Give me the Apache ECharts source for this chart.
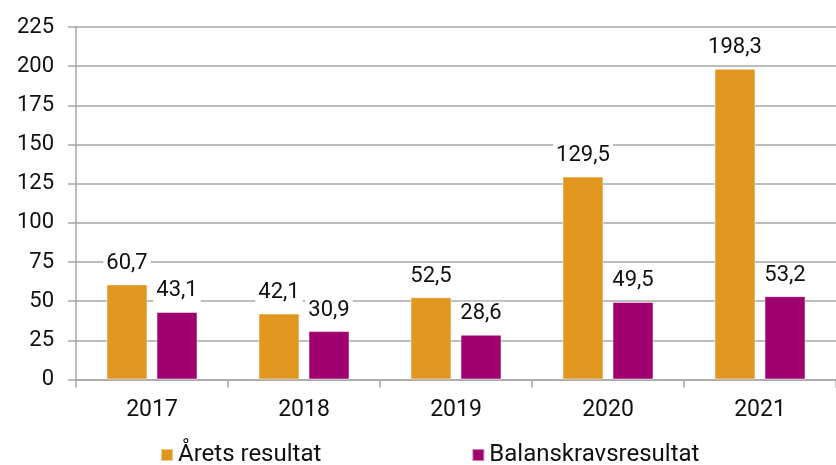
<!DOCTYPE html>
<html>
<head>
<meta charset="utf-8">
<script src="https://cdn.jsdelivr.net/npm/echarts@6/dist/echarts.min.js"></script>
<style>
  html, body { margin: 0; padding: 0; background: #fff; }
  #chart { width: 836px; height: 465px; }
</style>
</head>
<body>
<div id="chart"></div>
<script>
// data
var years = ['2017', '2018', '2019', '2020', '2021'];
var aretsResultat = [60.7, 42.1, 52.5, 129.5, 198.3];
var balanskrav = [43.1, 30.9, 28.6, 49.5, 53.2];
var seriesNames = ['Årets resultat', 'Balanskravsresultat'];

var myChart = echarts.init(document.getElementById('chart'));

// decimal comma
function fmt(p) {
  return String(p.value).replace('.', ',');
}

var labelStyle = {
  show: true,
  position: 'top',
  distance: 9,
  color: '#111',
  fontSize: 22,
  fontFamily: 'Roboto',
  backgroundColor: '#fff',
  padding: [1, 3, 1, 3],
  formatter: fmt
};

var option = {
  animation: false,
  textStyle: { fontFamily: 'Roboto' },
  grid: { left: 76, top: 27, width: 765, height: 352.5 },
  legend: {
    bottom: -2,
    left: 160,
    padding: 0,
    itemWidth: 12,
    itemHeight: 12,
    itemGap: 150,
    icon: 'rect',
    textStyle: { fontSize: 24, color: '#111', fontFamily: 'Roboto' },
    data: seriesNames
  },
  xAxis: {
    type: 'category',
    data: years,
    axisLine: { lineStyle: { color: '#a6a6a6', width: 1.5 } },
    axisTick: { show: true, length: 8, lineStyle: { color: '#a6a6a6', width: 1.5 } },
    axisLabel: { color: '#111', fontSize: 23, margin: 19 }
  },
  yAxis: {
    type: 'value',
    min: 0,
    max: 225,
    interval: 25,
    axisLine: { show: true, lineStyle: { color: '#a6a6a6', width: 1.5 } },
    axisTick: { show: true, length: 8, lineStyle: { color: '#a6a6a6', width: 1.5 } },
    splitLine: { lineStyle: { color: '#a6a6a6', width: 1.5 } },
    axisLabel: { color: '#111', fontSize: 22, margin: 22 }
  },
  series: [
    {
      name: seriesNames[0],
      type: 'bar',
      data: aretsResultat,
      barWidth: 41,
      barGap: '22%',
      itemStyle: { color: '#e0961f', borderColor: 'rgba(255,255,255,0.5)', borderWidth: 1 },
      label: labelStyle
    },
    {
      name: seriesNames[1],
      type: 'bar',
      data: balanskrav,
      barWidth: 41,
      barGap: '22%',
      itemStyle: { color: '#a0006e', borderColor: 'rgba(255,255,255,0.5)', borderWidth: 1 },
      label: labelStyle
    }
  ]
};

myChart.setOption(option);
</script>
</body>
</html>
